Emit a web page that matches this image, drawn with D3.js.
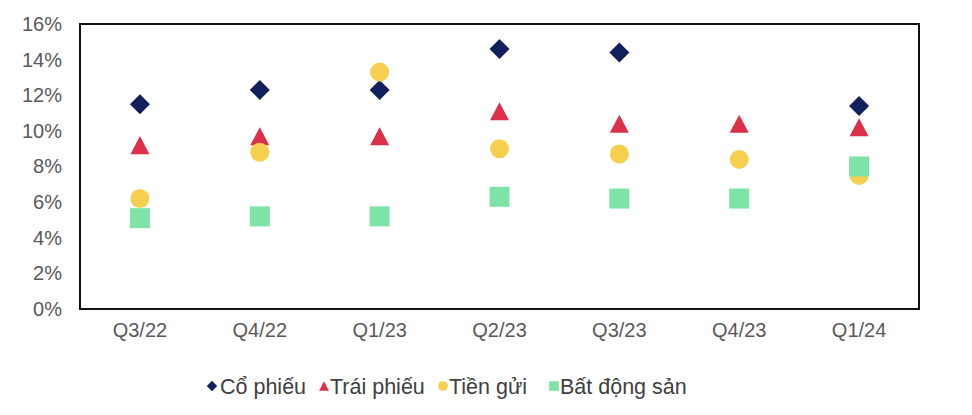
<!DOCTYPE html>
<html>
<head>
<meta charset="utf-8">
<script src="https://cdn.jsdelivr.net/npm/d3@7"></script>
<style>
  body { margin: 0; background: #fff; }
  text { font-family: "Liberation Sans", Arial, sans-serif; }
</style>
</head>
<body>
<div id="chart"></div>
<script>
// quarters on the x axis
const quarters = ["Q3/22", "Q4/22", "Q1/23", "Q2/23", "Q3/23", "Q4/23", "Q1/24"];
// returns in %, null = no marker
const coPhieu   = [11.5, 12.3, 12.3, 14.6, 14.4, null, 11.4];
const traiPhieu = [9.2, 9.7, 9.7, 11.1, 10.4, 10.4, 10.2];
const tienGui   = [6.2, 8.8, 13.3, 9.0, 8.7, 8.4, 7.5];
const batDongSan = [5.1, 5.2, 5.2, 6.3, 6.2, 6.2, 8.0];
const yTicks = [0, 2, 4, 6, 8, 10, 12, 14, 16];

const width = 972, height = 415;
const margin = {top: 24, right: 53, bottom: 106, left: 80};
const plotW = width - margin.left - margin.right;
const plotH = height - margin.top - margin.bottom;

// square-ish triangle, centred on its bounding box like Excel does
const triangleBox = {
  draw(ctx, size) {
    const w = Math.sqrt(size);
    const h = w * 0.95;
    ctx.moveTo(0, -h / 2);
    ctx.lineTo(w / 2, h / 2);
    ctx.lineTo(-w / 2, h / 2);
    ctx.closePath();
  }
};
const diamondBox = {
  draw(ctx, size) {
    const r = Math.sqrt(size) / 2;
    ctx.moveTo(0, -r);
    ctx.lineTo(r, 0);
    ctx.lineTo(0, r);
    ctx.lineTo(-r, 0);
    ctx.closePath();
  }
};
const squareBox = {
  draw(ctx, size) {
    const r = Math.sqrt(size) / 2;
    ctx.rect(-r, -r, 2 * r, 2 * r);
  }
};
const circleBox = {
  draw(ctx, size) {
    const r = Math.sqrt(size) / 2;
    ctx.moveTo(r, 0);
    ctx.arc(0, 0, r, 0, 2 * Math.PI);
  }
};

const series = [
  {name: "Cổ phiếu", values: coPhieu, color: "#111f5c", type: diamondBox, size: 20 * 20},
  {name: "Trái phiếu", values: traiPhieu, color: "#dc2f4a", type: triangleBox, size: 19 * 19},
  {name: "Tiền gửi", values: tienGui, color: "#f6cf4f", type: circleBox, size: 19 * 19},
  {name: "Bất động sản", values: batDongSan, color: "#7ee3a6", type: squareBox, size: 20 * 20}
];

const svg = d3.select("#chart")
  .append("svg")
  .attr("width", width)
  .attr("height", height)
  .style("background", "#fff");

const g = svg.append("g")
  .attr("transform", `translate(${margin.left},${margin.top})`);

const x = d3.scaleBand()
  .domain(quarters)
  .range([0, plotW])
  .padding(0);

const y = d3.scaleLinear()
  .domain([0, 16])
  .range([plotH, 0]);

// y axis labels
const yAxis = g.append("g")
  .call(d3.axisLeft(y).tickValues(yTicks).tickSize(0).tickPadding(18).tickFormat(d => d + "%"));
yAxis.select(".domain").remove();
yAxis.selectAll("text")
  .style("font-size", "20px")
  .attr("fill", "#595959");

// x axis labels
const xAxis = g.append("g")
  .attr("transform", `translate(0,${plotH})`)
  .call(d3.axisBottom(x).tickSize(0).tickPadding(14));
xAxis.select(".domain").remove();
xAxis.selectAll("text")
  .style("font-size", "20px")
  .attr("fill", "#595959");

// markers
series.forEach(function(s) {
  const pts = quarters.map((q, i) => ({q: q, v: s.values[i]})).filter(d => d.v != null);
  g.append("g").selectAll("path")
    .data(pts)
    .enter()
    .append("path")
    .attr("transform", d => `translate(${x(d.q) + x.bandwidth() / 2},${y(d.v)})`)
    .attr("d", d3.symbol().type(s.type).size(s.size))
    .attr("fill", s.color);
});

// plot frame
g.append("rect")
  .attr("x", 0)
  .attr("y", 0)
  .attr("width", plotW)
  .attr("height", plotH)
  .attr("fill", "none")
  .attr("stroke", "#111")
  .attr("stroke-width", 2);

// legend
const legendItems = [
  {x: 212, tx: 220},
  {x: 324, tx: 330},
  {x: 443, tx: 449},
  {x: 554, tx: 560}
];
const legend = svg.append("g").attr("transform", "translate(0,386)");
series.forEach(function(s, i) {
  legend.append("path")
    .attr("transform", `translate(${legendItems[i].x},0)`)
    .attr("d", d3.symbol().type(s.type).size(s.type === diamondBox ? 110 : 95))
    .attr("fill", s.color);
  legend.append("text")
    .attr("x", legendItems[i].tx)
    .attr("y", 0)
    .attr("dy", "0.35em")
    .style("font-size", "21.5px")
    .attr("fill", "#404040")
    .text(s.name);
});
</script>
</body>
</html>
